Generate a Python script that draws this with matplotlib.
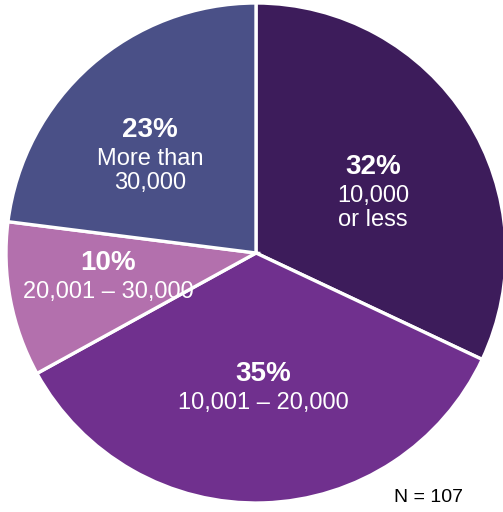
import matplotlib.pyplot as plt
from matplotlib import font_manager

# Share of respondents by size band
percents = [32, 35, 10, 23]
pct_labels = ['32%', '35%', '10%', '23%']
band_labels = ['10,000\nor less', '10,001 – 20,000', '20,001 – 30,000', 'More than\n30,000']
colors = ['#3d1c5b', '#70308e', '#b370ad', '#4a5087']
n_note = 'N = 107'

names = {f.name for f in font_manager.fontManager.ttflist}
family = 'Liberation Sans Narrow' if 'Liberation Sans Narrow' in names else 'Liberation Sans'
plt.rcParams['font.family'] = [family, 'DejaVu Sans']

fig = plt.figure(figsize=(5.03, 5.12), dpi=100)
ax = fig.add_axes([0, 0, 1, 1])

cx, cy, r = 256, 512 - 253, 250
ax.pie(percents, colors=colors, startangle=90, counterclock=False,
       center=(cx, cy), radius=r,
       wedgeprops=dict(edgecolor='white', linewidth=2.4))

# label positions in pixel coords (x, y from top)
label_pos = [(373, 167), (263, 374), (108, 263), (150, 130)]
for (px, py), p, b in zip(label_pos, pct_labels, band_labels):
    ax.text(px, 512 - py, p, ha='center', va='center', color='white',
            fontsize=20, fontweight='bold')
    ax.text(px, 512 - py - 18, b, ha='center', va='top', color='white',
            fontsize=17, linespacing=1.12)

ax.text(429, 512 - 498, n_note, ha='center', va='center', fontsize=14, color='black')

ax.set_xlim(0, 503)
ax.set_ylim(0, 512)
ax.set_aspect('auto')
ax.axis('off')

fig.savefig('out.png', dpi=100)
